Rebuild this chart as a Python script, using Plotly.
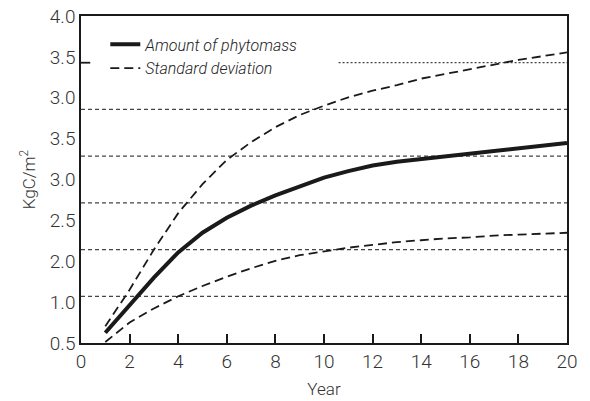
import plotly.graph_objects as go

years = list(range(1, 21))
amount = [0.61, 0.90, 1.20, 1.47, 1.68, 1.84, 1.97, 2.08, 2.18, 2.27,
          2.34, 2.40, 2.44, 2.47, 2.50, 2.53, 2.56, 2.59, 2.61, 2.64]
sd_upper = [0.68, 1.07, 1.50, 1.89, 2.20, 2.46, 2.65, 2.81, 2.94, 3.04,
            3.13, 3.20, 3.26, 3.33, 3.38, 3.43, 3.48, 3.53, 3.57, 3.61]
sd_lower = [0.51, 0.72, 0.87, 1.00, 1.11, 1.21, 1.30, 1.38, 1.44, 1.48,
            1.52, 1.55, 1.58, 1.60, 1.62, 1.63, 1.65, 1.66, 1.67, 1.68]

# y tick labels as printed (evenly spaced along the axis)
ytick_labels = ["0.5", "1.0", "2.0", "2.5", "3.0", "3.5", "3.0", "3.5", "4.0"]
y_min, y_max = 0.5, 4.0
ytick_pos = [y_min + i * (y_max - y_min) / (len(ytick_labels) - 1) for i in range(len(ytick_labels))]

xtick_vals = list(range(0, 21, 2))
grid_levels = [1.0, 1.5, 2.0, 2.5, 3.0]
partial_level = 3.5
partial_start = 10.6

FONT = "Roboto, sans-serif"
TXT = "#333333"

fig = go.Figure()
fig.add_trace(go.Scatter(x=years, y=amount, mode="lines", name="Amount of phytomass",
                         line=dict(color="#1a1a1a", width=4)))
fig.add_trace(go.Scatter(x=years, y=sd_upper, mode="lines", name="Standard deviation",
                         line=dict(color="#1a1a1a", width=1.8, dash="9px,5px")))
fig.add_trace(go.Scatter(x=years, y=sd_lower, mode="lines", name="Standard deviation",
                         showlegend=False,
                         line=dict(color="#1a1a1a", width=1.8, dash="9px,5px")))

shapes = []
for g in grid_levels:
    shapes.append(dict(type="line", xref="x domain", yref="y", x0=0, x1=1, y0=g, y1=g,
                       line=dict(color="#444444", width=1.2, dash="4px,3px"), layer="below"))
shapes.append(dict(type="line", xref="x", yref="y", x0=partial_start, x1=20,
                   y0=partial_level, y1=partial_level,
                   line=dict(color="#444444", width=1.2, dash="2px,2px"), layer="below"))
shapes.append(dict(type="line", xref="x domain", yref="y", x0=0, x1=0.019,
                   y0=partial_level, y1=partial_level,
                   line=dict(color="#1a1a1a", width=1.8)))

fig.update_layout(
    width=590, height=401,
    margin=dict(l=81, r=23, t=16, b=58),
    paper_bgcolor="white", plot_bgcolor="white",
    font=dict(family=FONT, color=TXT, size=19, weight=300),
    shapes=shapes,
    showlegend=True,
    legend=dict(x=0.05, y=0.965, xanchor="left", yanchor="top",
                bgcolor="rgba(0,0,0,0)",
                font=dict(size=16, color="#222", style="italic", weight=300),
                tracegroupgap=0, itemwidth=30),
    xaxis=dict(range=[0, 20], tickvals=xtick_vals, ticks="inside", ticklen=9, tickwidth=1.8,
               tickcolor="#1a1a1a", showgrid=False, zeroline=False, automargin=False,
               showline=True, linecolor="#1a1a1a", linewidth=1.5, mirror=True,
               title=dict(text="Year", font=dict(size=17), standoff=12)),
    yaxis=dict(range=[y_min, y_max], tickvals=ytick_pos, ticktext=ytick_labels, ticks="",
               showgrid=False, zeroline=False, automargin=False,
               showline=True, linecolor="#1a1a1a", linewidth=1.5, mirror=True,
               title=dict(text="KgC/m<sup>2</sup>", font=dict(size=17), standoff=10)),
)

fig.write_html("out.html")
